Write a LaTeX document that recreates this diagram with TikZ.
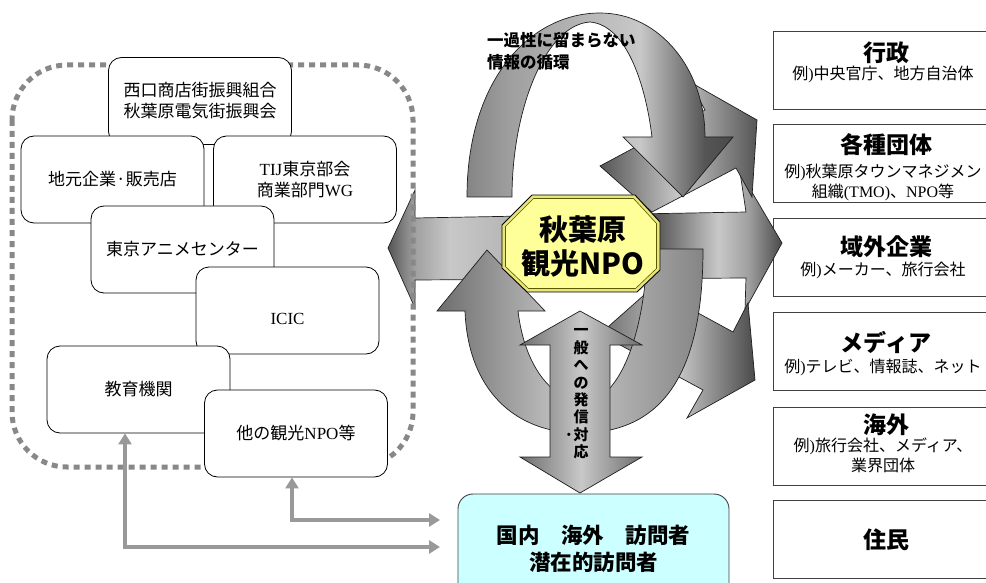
\documentclass[tikz,border=0pt]{standalone}
\usepackage{fontspec}
\setmainfont{Liberation Serif}
\newfontfamily\jp{Noto Sans CJK JP}
\usetikzlibrary{arrows.meta}
\newcommand{\J}[1]{{\jp #1}}
\definecolor{octf}{HTML}{FFFF99}
\definecolor{octb}{HTML}{E6E67A}
\definecolor{octl}{HTML}{5A5A00}
\definecolor{cyf}{HTML}{CCFFFF}
\definecolor{lk}{HTML}{999999}
\definecolor{dg}{HTML}{888888}
\definecolor{rb}{HTML}{404040}
\definecolor{ol}{HTML}{1E1E1E}
\definecolor{gA}{HTML}{4A4A4A}
\definecolor{gB}{HTML}{555555}
\definecolor{gC}{HTML}{858585}
\definecolor{gD}{HTML}{A0A0A0}
\definecolor{gE}{HTML}{B8B8B8}
\definecolor{gF}{HTML}{C8C8C8}
\definecolor{gG}{HTML}{6E6E6E}
\pgfdeclarehorizontalshading{archsh}{100bp}{color(0bp)=(gC); color(25bp)=(gC); color(33.5bp)=(gD); color(48bp)=(gE); color(57.5bp)=(gF); color(69.7bp)=(gB); color(75bp)=(gA); color(100bp)=(gA)}
\pgfdeclarehorizontalshading{harrsh}{100bp}{color(0bp)=(gB); color(25bp)=(gB); color(28.4bp)=(gD); color(32.9bp)=(gF); color(39.2bp)=(gE); color(58.9bp)=(gB); color(66.9bp)=(gF); color(70.7bp)=(gD); color(75bp)=(gA); color(100bp)=(gA)}
\tikzset{
  rbox/.style={draw=rb, line width=0.9pt, fill=white, minimum width=232pt, minimum height=78pt, inner sep=0pt},
  rtitle/.style={font=\jp\bfseries\fontsize{23}{26}\selectfont, inner sep=0pt},
  rsub/.style={font=\fontsize{16}{20}\selectfont, align=center, inner sep=0pt},
  lbox/.style={draw=black, line width=0.8pt, fill=white, rounded corners=13pt, minimum width=183pt, minimum height=87pt, align=center, inner sep=0pt, font=\fontsize{17}{21}\selectfont},
  bigarrow/.style={draw=ol, line width=0.7pt},
  glink/.style={draw=lk, line width=4pt, {Triangle[length=11pt,width=13pt]}-{Triangle[length=11pt,width=13pt]}},
}
\begin{document}
\begin{tikzpicture}[x=1pt,y=-1pt]
\useasboundingbox (0,0) rectangle (986,583);

% right column boxes
\node[rbox] (gov) at (889,70) {};
\node[rbox] (org) at (889,163.5) {};
\node[rbox] (ext) at (889,257.5) {};
\node[rbox] (med) at (889,351.5) {};
\node[rbox] (ovs) at (889,446) {};
\node[rbox] (res) at (889,539.5) {};
\node[rtitle] (govT) at (886,53) {行政};
\node[rsub] (govS) at (883,74) {\J{例})\J{中央官庁、地方自治体}};
\node[rtitle] (orgT) at (886,145) {各種団体};
\node[rsub] (orgS) at (883,182) {\J{例})\J{秋葉原タウンマネジメン}\\\J{組織}(TMO)\J{、}NPO\J{等}};
\node[rtitle] (extT) at (886,247) {域外企業};
\node[rsub] (extS) at (883,270) {\J{例})\J{メーカー、旅行会社}};
\node[rtitle] (medT) at (886,342) {メディア};
\node[rsub] (medS) at (883,367) {\J{例})\J{テレビ、情報誌、ネット}};
\node[rtitle] (ovsT) at (886,425) {海外};
\node[rsub] (ovsS) at (883,455) {\J{例})\J{旅行会社、メディア、}\\\J{業界団体}};
\node[rtitle] (resT) at (886,540) {住民};

% horizontal double arrow
\shadedraw[bigarrow, shading=harrsh] (388,248) -- (415,190) -- (415,218) -- (746,212) -- (740,172) -- (782,243) -- (745,310) -- (746,278) -- (415,280) -- (415,308) -- cycle;
% arrow to lower right
\shadedraw[bigarrow, left color=gG, right color=gA, middle color=gF] (600,334) -- (703,390) -- (687,418) -- (755,380) -- (748,303) -- (733,332) -- (652,288) -- cycle;
% arrow to upper right
\shadedraw[bigarrow, left color=gB, right color=gB, middle color=gF] (600,166) -- (705,110) -- (690,82) -- (757,120) -- (752,197) -- (736,168) -- (652,212) -- cycle;
% top arch arrow
\shadedraw[bigarrow, shading=archsh] (467,197) .. controls (467,80) and (530,13) .. (600,13) .. controls (660,13) and (705,70) .. (705,137) -- (733,137) -- (683,197) -- (623,137) -- (652,137) .. controls (645,80) and (625,25) .. (590,22) .. controls (545,25) and (512,110) .. (512,197) -- cycle;
% bottom U arrow
\shadedraw[bigarrow, left color=gG, right color=gC, middle color=gF] (487,250) -- (437,311) -- (465,311) .. controls (468,390) and (515,433) .. (580,433) .. controls (665,433) and (703,370) .. (703,249) -- (650,249) -- (645,283) .. controls (638,350) and (615,400) .. (585,402) .. controls (555,402) and (525,370) .. (518,311) -- (545,311) -- cycle;
% vertical double arrow
\shadedraw[bigarrow, left color=gG, right color=gG, middle color=gF] (580,311) -- (642,345) -- (610,345) -- (610,457) -- (642,457) -- (580,493) -- (520,457) -- (550,457) -- (550,345) -- (520,345) -- cycle;
\node[font=\jp\bfseries\fontsize{15}{17.4}\selectfont, align=center, inner sep=0pt] (vtext) at (581,394) {一\\般\\へ\\の\\発\\信\\\llap{·}対\\応};

% central octagon
\filldraw[fill=octb, draw=black, line width=0.9pt] (532,195) -- (635,195) -- (660,222) -- (660,270) -- (637,292) -- (527,292) -- (502,268) -- (502,225) -- cycle;
\filldraw[fill=octf, draw=octl, line width=0.6pt] (533.5,198.5) -- (633.5,198.5) -- (656.5,223.5) -- (656.5,268.5) -- (635.5,288.5) -- (528.5,288.5) -- (505.5,266.5) -- (505.5,226.5) -- cycle;
\node[font=\jp\bfseries\fontsize{29}{34}\selectfont, align=center, inner sep=0pt] (npo) at (583,247) {秋葉原\\観光NPO};

\node[font=\jp\bfseries\fontsize{16.5}{22}\selectfont, align=left, anchor=west, inner sep=0pt] (cyc) at (487,51) {一過性に留まらない\\情報の循環};

% dotted group border
\draw[draw=dg, line width=5pt, dash pattern=on 6pt off 5pt, rounded corners=55pt] (12,65) rectangle (413,467);

% left boxes
\node[lbox] (b1) at (200,101) {\J{西口商店街振興組合}\\\J{秋葉原電気街振興会}};
\node[lbox] (b2) at (112.5,179.5) {\J{地元企業·販売店}};
\node[lbox] (b3) at (305,179.5) {TIJ\J{東京部会}\\\J{商業部門}WG};
\node[lbox] (b4) at (182.5,249.5) {\J{東京アニメセンター}};
\node[lbox, text height=27.6pt, text depth=0pt] (b5) at (287.5,310.5) {ICIC};
\node[lbox] (b6) at (138.5,389.5) {\J{教育機関}};
\node[lbox] (b7) at (296,433.5) {\J{他の観光}NPO\J{等}};

% bottom visitor box
\node[draw=rb, line width=0.9pt, fill=cyf, rounded corners=15pt, minimum width=271pt, minimum height=110pt, inner sep=0pt, align=center, font=\jp\bfseries\fontsize{21.5}{27}\selectfont] (visitor) at (593.5,549) {国内　海外　訪問者\\潜在的訪問者};

% gray links
\coordinate (v1) at (440,547);
\coordinate (v2) at (440,520);
\draw[glink] ([xshift=-13.5pt]b6.south) |- (v1);
\draw[glink] ([xshift=-4pt]b7.south) |- (v2);
\end{tikzpicture}
\end{document}
